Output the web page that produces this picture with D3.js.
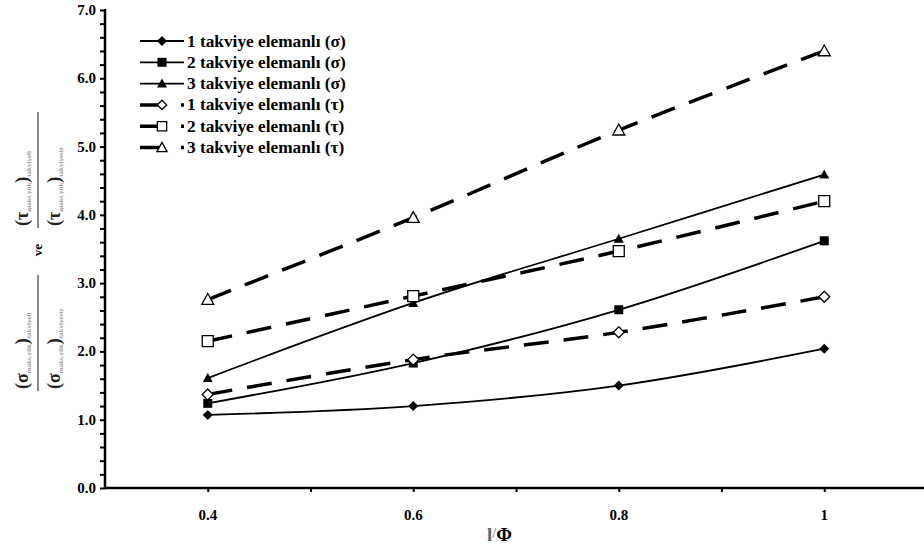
<!DOCTYPE html>
<html>
<head>
<meta charset="utf-8">
<script src="https://cdn.jsdelivr.net/npm/d3@7"></script>
<style>
  body { margin: 0; background: #fff; }
  svg { font-family: "Liberation Serif", "Times New Roman", serif; font-weight: bold; }
</style>
</head>
<body>
<svg id="chart" width="924" height="554"></svg>
<script>
// l/Φ oranları
var xValues = [0.4, 0.6, 0.8, 1.0];

// σ serileri (düz çizgi, dolu işaretçi)
var sigma1 = [1.07, 1.20, 1.50, 2.04];
var sigma2 = [1.24, 1.83, 2.61, 3.62];
var sigma3 = [1.61, 2.71, 3.65, 4.59];

// τ serileri (kesikli çizgi, boş işaretçi)
var tau1 = [1.37, 1.88, 2.28, 2.80];
var tau2 = [2.15, 2.81, 3.47, 4.20];
var tau3 = [2.76, 3.96, 5.24, 6.40];

var seriesNames = [
  "1 takviye elemanlı (σ)", "2 takviye elemanlı (σ)", "3 takviye elemanlı (σ)",
  "1 takviye elemanlı (τ)", "2 takviye elemanlı (τ)", "3 takviye elemanlı (τ)"
];

var yTickLabels = ["0.0", "1.0", "2.0", "3.0", "4.0", "5.0", "6.0", "7.0"];
var xTickLabels = ["0.4", "0.6", "0.8", "1"];

var series = [
  { name: seriesNames[0], values: sigma1, marker: "diamond", filled: true,  dashed: false },
  { name: seriesNames[1], values: sigma2, marker: "square",  filled: true,  dashed: false },
  { name: seriesNames[2], values: sigma3, marker: "triangle",filled: true,  dashed: false },
  { name: seriesNames[3], values: tau1,   marker: "diamond", filled: false, dashed: true },
  { name: seriesNames[4], values: tau2,   marker: "square",  filled: false, dashed: true },
  { name: seriesNames[5], values: tau3,   marker: "triangle",filled: false, dashed: true }
];

var svg = d3.select("#chart");

var x = d3.scaleLinear().domain([0.3, 1.1]).range([105, 927]);
var y = d3.scaleLinear().domain([0, 7]).range([488, 10]);

// markers - Excel style, diamond is a rotated square
function markerPath(s, k) {
  var p = d3.path();
  var r;
  if (s.marker == "diamond") {
    r = s.filled ? 5 : 5.5;
  } else if (s.marker == "square") {
    r = s.filled ? 4.5 : 5.5;
  } else {
    r = s.filled ? 5 : 6;
  }
  r = r * (k || 1);
  if (s.marker == "diamond") {
    p.moveTo(0, -r); p.lineTo(r, 0); p.lineTo(0, r); p.lineTo(-r, 0); p.closePath();
  } else if (s.marker == "square") {
    p.rect(-r, -r, 2 * r, 2 * r);
  } else {
    p.moveTo(0, -r); p.lineTo(r, r * 0.8); p.lineTo(-r, r * 0.8); p.closePath();
  }
  return p.toString();
}
function drawMarker(g, s, cx, cy, k) {
  g.append("path")
    .attr("d", markerPath(s, k))
    .attr("transform", "translate(" + cx + "," + cy + ")")
    .attr("fill", s.filled ? "#000" : "#fff")
    .attr("stroke", "#000")
    .attr("stroke-width", s.filled ? 0 : 1.3);
}

// axes
var yMinor = d3.range(0, 7.01, 0.2);
svg.append("g")
  .attr("transform", "translate(105,0)")
  .call(d3.axisLeft(y).tickValues(yMinor).tickSize(5).tickFormat(""))
  .call(function(g) {
    g.select(".domain").attr("stroke-width", 2.5).attr("d", "M0,488V9");
    g.selectAll(".tick line").attr("stroke-width", 2);
  });

svg.append("g").selectAll("text")
  .data(yTickLabels)
  .enter().append("text")
  .attr("x", 96)
  .attr("y", function(d) { return y(+d) + 5; })
  .attr("text-anchor", "end")
  .attr("font-size", 15)
  .text(function(d) { return d; });

svg.append("g")
  .attr("transform", "translate(0,488)")
  .call(d3.axisBottom(x).tickValues(d3.range(0.4, 1.05, 0.1)).tickSize(4).tickFormat(""))
  .call(function(g) {
    g.select(".domain").attr("stroke-width", 2.5).attr("d", "M104,0H924");
    g.selectAll(".tick line").attr("stroke-width", 2);
  });

svg.append("g").selectAll("text")
  .data(xTickLabels)
  .enter().append("text")
  .attr("x", function(d) { return x(+d); })
  .attr("y", 520)
  .attr("text-anchor", "middle")
  .attr("font-size", 15)
  .text(function(d) { return d; });

// lines
var line = d3.line()
  .x(function(d) { return x(d[0]); })
  .y(function(d) { return y(d[1]); })
  .curve(d3.curveCardinal.tension(0));

series.forEach(function(s) {
  var pts = xValues.map(function(v, i) { return [v, s.values[i]]; });
  svg.append("path")
    .attr("d", line(pts))
    .attr("fill", "none")
    .attr("stroke", "#000")
    .attr("stroke-width", s.dashed ? 3.5 : 1.8)
    .attr("stroke-dasharray", s.dashed ? "25,15" : null);
});
series.forEach(function(s) {
  var g = svg.append("g");
  xValues.forEach(function(v, i) { drawMarker(g, s, x(v), y(s.values[i])); });
});

// legend
var legend = svg.append("g");
series.forEach(function(s, i) {
  var ly = 41 + i * 21.3;
  legend.append("line")
    .attr("x1", 140).attr("x2", 184)
    .attr("y1", ly).attr("y2", ly)
    .attr("stroke", "#000")
    .attr("stroke-width", s.dashed ? 3.5 : 1.8)
    .attr("stroke-dasharray", s.dashed ? "22,19" : null);
  drawMarker(legend, s, 162, ly, s.filled ? 1 : 0.85);
  legend.append("text")
    .attr("x", 187).attr("y", ly + 5.5)
    .attr("font-size", 17.3)
    .text(s.name);
});

// y axis title: (σ..)/(σ..) ve (τ..)/(τ..)
function fraction(cx, cy, sym) {
  var g = svg.append("g").attr("transform", "translate(" + cx + "," + cy + ") rotate(-90)");
  g.append("line").attr("x1", -58).attr("x2", 58).attr("y1", 0).attr("y2", 0)
    .attr("stroke", "#888").attr("stroke-width", 2);
  [-10, 22].forEach(function(dy, k) {
    var t = g.append("text").attr("x", -56).attr("y", dy).attr("font-size", 18).attr("fill", "#222");
    t.append("tspan").text("(" + sym);
    t.append("tspan").attr("font-size", 7).attr("fill", "#999").attr("dy", 3).text("maks.yük");
    t.append("tspan").attr("dy", -3).text(")");
    t.append("tspan").attr("font-size", 7).attr("fill", "#999").attr("dy", 3)
      .text(k == 0 ? "takviyeli" : "takviyesiz");
  });
}
fraction(38, 333, "σ");
fraction(38, 170, "τ");
svg.append("text")
  .attr("transform", "translate(42,250) rotate(-90)")
  .attr("text-anchor", "middle")
  .attr("font-size", 13)
  .text("ve");

// x axis title
var xt = svg.append("text").attr("x", 487).attr("y", 541).attr("font-size", 19);
xt.append("tspan").attr("fill", "#666").text("l");
xt.append("tspan").attr("fill", "#999").attr("font-size", 14).attr("dy", -3).text("/");
xt.append("tspan").attr("dy", 3).text("Φ");
</script>
</body>
</html>
